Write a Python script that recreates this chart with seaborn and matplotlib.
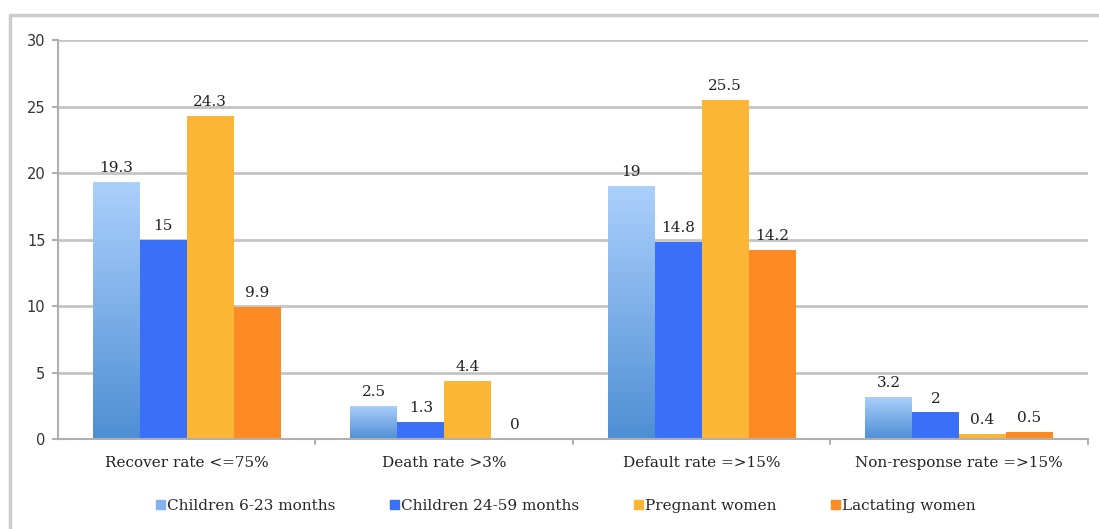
import numpy as np
import pandas as pd
import matplotlib
matplotlib.use("Agg")
import matplotlib.pyplot as plt
import seaborn as sns
from matplotlib.colors import LinearSegmentedColormap
from matplotlib.patches import Rectangle

categories = ["Recover rate <=75%", "Death rate >3%", "Default rate =>15%", "Non-response rate =>15%"]
groups = ["Children 6-23 months", "Children 24-59 months", "Pregnant women", "Lactating women"]
children_6_23 = [19.3, 2.5, 19.0, 3.2]
children_24_59 = [15.0, 1.3, 14.8, 2.0]
pregnant = [24.3, 4.4, 25.5, 0.4]
lactating = [9.9, 0.0, 14.2, 0.5]
y_ticks = [0, 5, 10, 15, 20, 25, 30]

colors = ["#7fb2ee", "#3a70f8", "#fbb636", "#fd8a22"]

rows = []
for g, vals in zip(groups, [children_6_23, children_24_59, pregnant, lactating]):
    for c, v in zip(categories, vals):
        rows.append({"category": c, "group": g, "value": v})
df = pd.DataFrame(rows)

sns.set_theme(style="white")
plt.rcParams["font.family"] = ["DejaVu Serif"]

fig = plt.figure(figsize=(10.99, 5.29), dpi=100)
ax = fig.add_axes([0.0528, 0.170, 0.937, 0.7544])

sns.barplot(data=df, x="category", y="value", hue="group", order=categories,
            hue_order=groups, palette=colors, width=0.73, saturation=1,
            linewidth=0, ax=ax, legend=False)

ax.set_ylim(0, 30)
ax.set_xlim(-0.5, 3.5)
ax.set_yticks(y_ticks)
ax.yaxis.grid(True, color="#c4c4c4", linewidth=2)
ax.set_axisbelow(True)
ax.set_xlabel("")
ax.set_ylabel("")
for s in ["top", "right"]:
    ax.spines[s].set_visible(False)
for s in ["left", "bottom"]:
    ax.spines[s].set_color("#b0b0b0")
    ax.spines[s].set_linewidth(1.5)
ax.tick_params(axis="y", labelsize=10.5, colors="#333333", length=4, width=1.5,
               color="#b0b0b0", left=True, pad=5)
for t in ax.get_yticklabels():
    t.set_family("DejaVu Sans")
ax.tick_params(axis="x", labelsize=11, colors="#222222", length=0, pad=12)

# category separator ticks on the x axis
for xb in [0.5, 1.5, 2.5, 3.5]:
    ax.plot([xb, xb], [0, -0.35], color="#b0b0b0", lw=1.5, clip_on=False)

# gradient fill for the first series
grad = LinearSegmentedColormap.from_list("blue_grad", ["#4f8ed4", "#abd0fc"])
first = ax.containers[0]
for bar in first:
    x0, w, h = bar.get_x(), bar.get_width(), bar.get_height()
    bar.set_facecolor("none")
    img = ax.imshow(np.linspace(0, 1, 256).reshape(-1, 1), cmap=grad, origin="lower",
                    extent=[x0, x0 + w, 0, h], aspect="auto", zorder=bar.get_zorder())
    img.set_clip_path(bar)
ax.set_xlim(-0.5, 3.5)
ax.set_ylim(0, 30)

for cont in ax.containers:
    ax.bar_label(cont, fmt="%g", padding=5, fontsize=11, color="#222222")

handles = [Rectangle((0, 0), 1, 1, color=c) for c in colors]
fig.legend(handles, groups, loc="center", bbox_to_anchor=(0.515, 0.043), ncol=4,
           frameon=False, fontsize=11, handlelength=0.55, handleheight=0.55,
           handletextpad=0.15, columnspacing=3.6)

# outer frame (top and left edges)
fig.add_artist(plt.Line2D([0.0091, 1.0], [0.972, 0.972], color="#cccccc", lw=2.5,
                          transform=fig.transFigure))
fig.add_artist(plt.Line2D([0.0091, 0.0091], [0.0, 0.972], color="#cccccc", lw=2.5,
                          transform=fig.transFigure))

fig.savefig("out.png", dpi=100, facecolor="white")
